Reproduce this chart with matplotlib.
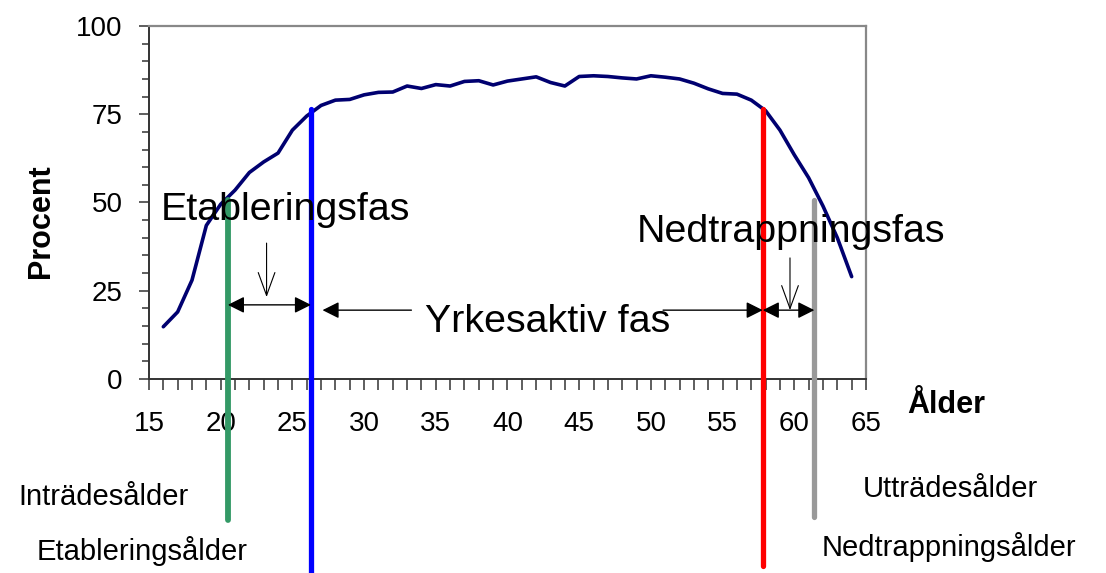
import matplotlib
matplotlib.use("Agg")
import matplotlib.pyplot as plt
from matplotlib.ticker import MultipleLocator

plt.rcParams['font.family'] = ['Liberation Sans', 'DejaVu Sans']

# Andel sysselsatta per ålder (procent)
ages = list(range(16, 65))
percent = [14.8, 19.0, 28.0, 43.5, 49.5, 53.5, 58.5, 61.5, 64.0, 70.5,
           74.5, 77.5, 79.0, 79.2, 80.5, 81.2, 81.3, 83.0, 82.3, 83.4,
           83.0, 84.3, 84.5, 83.3, 84.4, 85.0, 85.6, 84.0, 83.0, 85.7,
           85.9, 85.7, 85.3, 85.0, 85.9, 85.5, 85.0, 83.8, 82.2, 80.9,
           80.7, 79.0, 76.0, 70.5, 63.5, 57.0, 49.0, 40.0, 29.0]

# Gränsåldrar mellan faserna
entry_age = 20.5        # Inträdesålder
establish_age = 26.3    # Etableringsålder
stepdown_age = 57.8     # Nedtrappningsålder
exit_age = 61.4         # Utträdesålder

x_ticks = [15, 20, 25, 30, 35, 40, 45, 50, 55, 60, 65]
y_ticks = [0, 25, 50, 75, 100]

fig = plt.figure(figsize=(11.06, 5.73), dpi=100)
ax = fig.add_axes([0.1347, 0.3386, 0.6483, 0.616])

ax.plot(ages, percent, color='#000070', lw=2.6, zorder=3,
        solid_joinstyle='round', solid_capstyle='round')

ax.set_xlim(15, 65)
ax.set_ylim(0, 100)
ax.set_xticks(x_ticks)
ax.set_yticks(y_ticks)
ax.xaxis.set_minor_locator(MultipleLocator(1))
ax.yaxis.set_minor_locator(MultipleLocator(5))
ax.tick_params(axis='x', which='both', direction='out', length=8, width=1.1,
               color='#333333', labelsize=20, pad=15)
ax.tick_params(axis='y', which='major', direction='out', length=7, width=1.1,
               color='#333333', labelsize=20, pad=12)
ax.tick_params(axis='y', which='minor', direction='out', length=5, width=1.1,
               color='#333333')
for side in ('left', 'bottom'):
    ax.spines[side].set_color('#333333')
    ax.spines[side].set_linewidth(1.4)
for side in ('top', 'right'):
    ax.spines[side].set_color('#888888')
    ax.spines[side].set_linewidth(1.6)

# Vertikala markeringar för gränsåldrarna
marks = [
    (entry_age, 50.7, -40.0, '#339966', 4.2),
    (establish_age, 76.5, -56.0, '#0000FF', 3.8),
    (stepdown_age, 76.5, -53.0, '#FF0000', 3.8),
    (exit_age, 50.7, -39.0, '#999999', 3.8),
]
for xa, ytop, ybot, col, lw in marks:
    ax.plot([xa, xa], [ybot, ytop], color=col, lw=lw, clip_on=False,
            solid_capstyle='round', zorder=4)

filled = dict(arrowstyle='<|-|>,head_length=0.4,head_width=0.2',
              mutation_scale=25, color='black', lw=1.0,
              shrinkA=0, shrinkB=0)
single = dict(arrowstyle='-|>,head_length=0.4,head_width=0.2',
              mutation_scale=25, color='black', lw=1.0,
              shrinkA=0, shrinkB=0)
open_head = dict(arrowstyle='->,head_length=0.66,head_width=0.24',
                 mutation_scale=25, color='black', lw=0.8,
                 shrinkA=0, shrinkB=0)

# Etableringsfas
ax.annotate('', xy=(establish_age, 21.0), xytext=(entry_age, 21.0),
            arrowprops=filled, zorder=5)
ax.annotate('', xy=(23.2, 23.2), xytext=(23.2, 38.5),
            arrowprops=open_head, zorder=5)
ax.text(15.8, 45.0, 'Etableringsfas', fontsize=28.4, ha='left',
        va='baseline', zorder=6)

# Yrkesaktiv fas
ax.annotate('', xy=(27.1, 19.5), xytext=(33.3, 19.5),
            arrowprops=single, zorder=5)
ax.annotate('', xy=(stepdown_age, 19.5), xytext=(50.85, 19.5),
            arrowprops=single, zorder=5)
ax.text(34.25, 13.3, 'Yrkesaktiv fas', fontsize=28.4, ha='left',
        va='baseline', zorder=6)

# Nedtrappningsfas
ax.annotate('', xy=(exit_age, 19.5), xytext=(stepdown_age, 19.5),
            arrowprops=filled, zorder=5)
ax.annotate('', xy=(59.7, 19.5), xytext=(59.7, 34.3),
            arrowprops=open_head, zorder=5)
ax.text(49.0, 38.8, 'Nedtrappningsfas', fontsize=28.4, ha='left',
        va='baseline', zorder=6)

W, H = 1106, 573
def ftext(px, py, s, **kw):
    fig.text(px / W, 1 - py / H, s, **kw)

ftext(41, 221, 'Procent', rotation=90, fontsize=22, fontweight='bold',
      ha='center', va='center')
ftext(946, 405, 'Ålder', fontsize=22, fontweight='bold',
      ha='center', va='center')
ftext(103, 497, 'Inträdesålder', fontsize=21, ha='center', va='center')
ftext(142, 551, 'Etableringsålder', fontsize=21, ha='center', va='center')
ftext(950, 489, 'Utträdesålder', fontsize=21, ha='center', va='center')
ftext(949, 547, 'Nedtrappningsålder', fontsize=21, ha='center', va='center')

fig.savefig('out.png', dpi=100)
